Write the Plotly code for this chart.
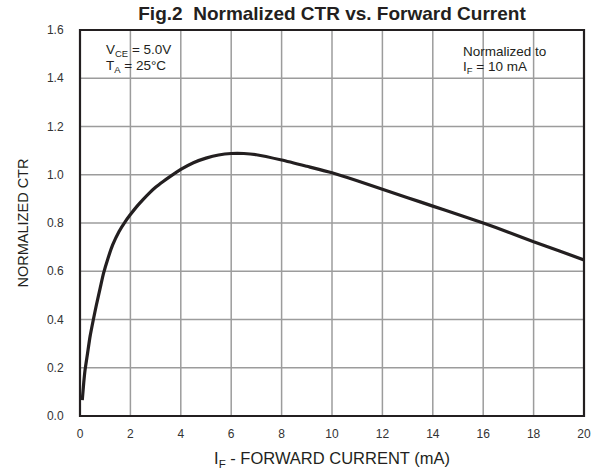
import plotly.graph_objects as go

forward_current = [0.09, 0.15, 0.2, 0.3, 0.4, 0.53, 0.65, 0.8, 0.93, 1.1, 1.3, 1.55, 1.79, 2.0, 2.25, 2.5, 2.75,
                   3.0, 3.3, 3.57, 4.0, 4.5, 5.0, 5.5, 6.0, 6.5, 7.0, 8.0,
                   9.0, 10.0, 11.0, 12.0, 13.0, 14.0, 15.0, 16.0, 17.0, 18.0, 19.0, 20.0]
normalized_ctr = [0.066, 0.14, 0.19, 0.26, 0.33, 0.40, 0.46, 0.53, 0.59, 0.65, 0.71, 0.765, 0.805, 0.835, 0.868,
                  0.897, 0.924, 0.948, 0.972, 0.992, 1.022, 1.050, 1.069, 1.082, 1.088, 1.088, 1.083, 1.061,
                  1.035, 1.008, 0.975, 0.94, 0.905, 0.87, 0.835, 0.80, 0.762, 0.722, 0.685, 0.647]
x_ticks = [0, 2, 4, 6, 8, 10, 12, 14, 16, 18, 20]
y_ticks = [0.0, 0.2, 0.4, 0.6, 0.8, 1.0, 1.2, 1.4, 1.6]

FONT = "Liberation Sans, Arial, sans-serif"
GRID = "#9c9c9c"
INK = "#231f20"

x_range = [x_ticks[0], x_ticks[-1]]
y_range = [y_ticks[0], y_ticks[-1]]

# grid lines built from the tick values
gx, gy = [], []
for v in x_ticks[1:-1]:
    gx += [v, v, None]
    gy += [y_range[0], y_range[1], None]
for v in y_ticks[1:-1]:
    gx += [x_range[0], x_range[1], None]
    gy += [v, v, None]

fig = go.Figure()
fig.add_trace(go.Scatter(x=gx, y=gy, mode="lines", line=dict(color=GRID, width=1.5),
                         showlegend=False, hoverinfo="skip", connectgaps=False))
fig.add_trace(go.Scatter(x=forward_current, y=normalized_ctr, mode="lines",
                         line=dict(color=INK, width=3.2, shape="spline", smoothing=0.6),
                         showlegend=False, hoverinfo="skip"))

fig.update_layout(
    width=601, height=472,
    margin=dict(l=80, r=17, t=30, b=56, autoexpand=False),
    paper_bgcolor="white", plot_bgcolor="white",
    font=dict(family=FONT, color=INK),
    title=dict(text="<b>Fig.2  Normalized CTR vs. Forward Current</b>",
               x=0.5, xanchor="center", xref="paper", y=0.985, yanchor="top", yref="container",
               font=dict(size=19, family=FONT, color=INK)),
)
fig.update_xaxes(range=x_range, tickvals=x_ticks, ticktext=[str(v) for v in x_ticks],
                 showgrid=False, automargin=False, showline=False,
                 ticks="outside", ticklen=7, tickcolor="rgba(0,0,0,0)", zeroline=False,
                 tickfont=dict(size=12, family=FONT, color="#333"),
                 title=dict(text="I<sub>F</sub> - FORWARD CURRENT (mA)", standoff=12,
                            font=dict(size=16.5, family=FONT, color=INK)))
fig.update_yaxes(range=y_range, tickvals=y_ticks, ticktext=[f"{v:.1f}" for v in y_ticks],
                 showgrid=False, automargin=False, showline=False,
                 ticks="outside", ticklen=13, tickcolor="rgba(0,0,0,0)", zeroline=False,
                 tickfont=dict(size=12, family=FONT, color="#333"),
                 title=dict(text="NORMALIZED CTR", standoff=14,
                            font=dict(size=14.5, family=FONT, color=INK)))

fig.add_shape(type="rect", x0=0, x1=1, y0=0, y1=1, xref="paper", yref="paper",
              line=dict(color=INK, width=2.2), layer="above")

ann_font = dict(size=13.5, family=FONT, color=INK)
for txt, xp, yp in [("V<sub>CE</sub> = 5.0V", 0.049, 0.946),
                    ("T<sub>A</sub> = 25°C", 0.049, 0.905),
                    ("Normalized to", 0.758, 0.944),
                    ("I<sub>F</sub> = 10 mA", 0.758, 0.903)]:
    fig.add_annotation(x=xp, y=yp, xref="paper", yref="paper", xanchor="left", yanchor="middle",
                       align="left", showarrow=False, text=txt, font=ann_font,
                       borderpad=0)

fig.write_html("out.html", post_script="document.body.style.margin='0';",
               config={"displayModeBar": False})
